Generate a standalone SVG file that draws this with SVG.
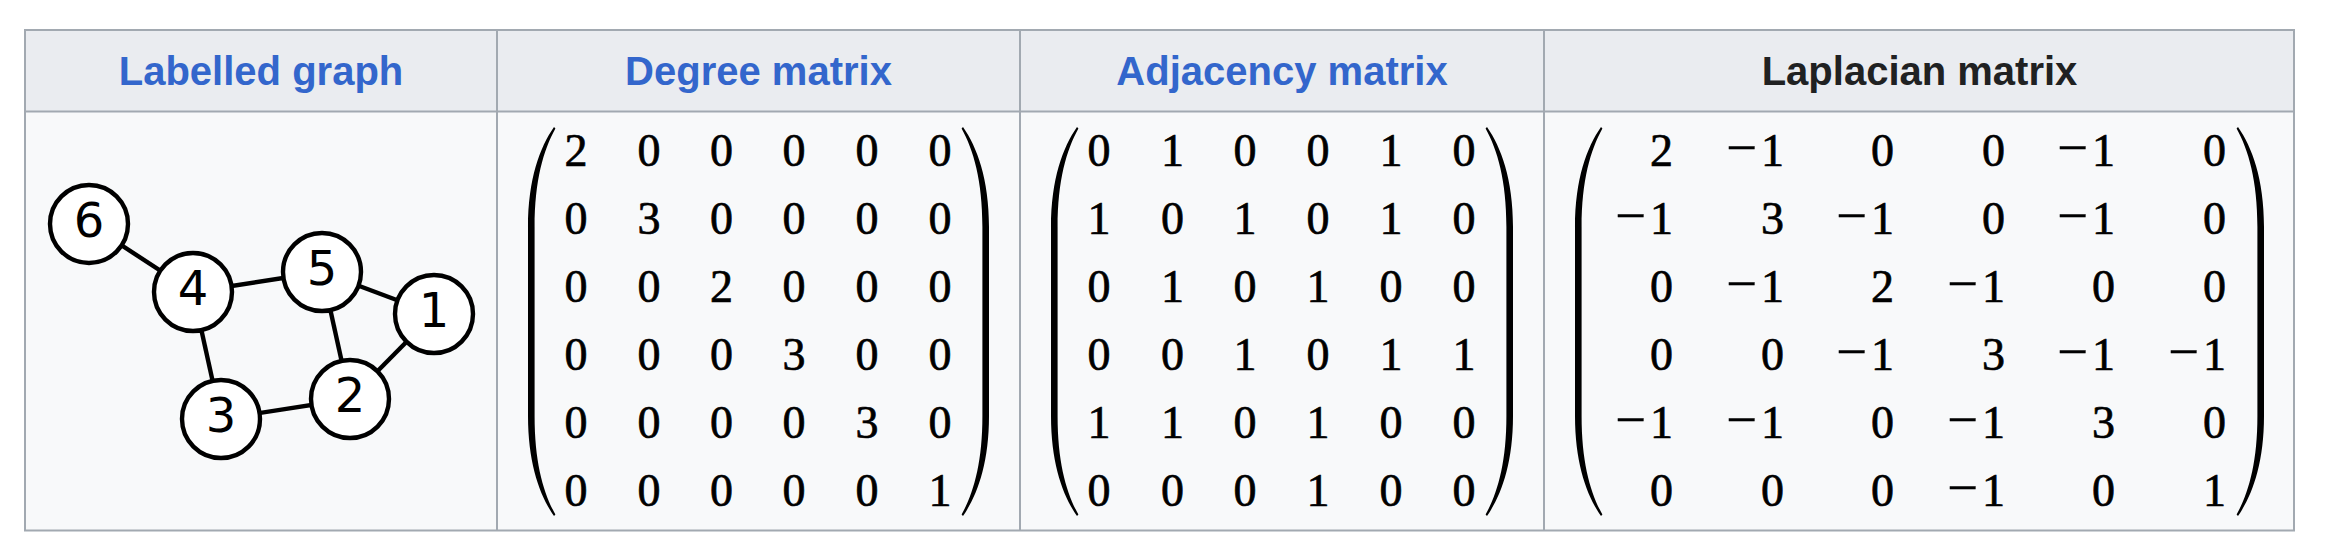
<svg xmlns="http://www.w3.org/2000/svg" xmlns:xlink="http://www.w3.org/1999/xlink" width="2328" height="556" viewBox="0 0 2328 556">
<style>
.hd{fill:#eaecf0}
.bd{fill:#f8f9fa}
.ln{stroke:#a2a9b1;stroke-width:2;fill:none}
.ht{font-family:"Liberation Sans",Arial,sans-serif;font-weight:bold;font-size:40px;text-anchor:middle}
.lk{fill:#3366cc}
.bk{fill:#202122}
.mc,.mr{font-family:"Liberation Serif","Times New Roman",serif;font-size:46px;fill:#000;stroke:#000;stroke-width:0.7}
.mc{text-anchor:middle}
.mr{text-anchor:end}
.mn{font-size:55px;stroke-width:0.3}
.edge{stroke:#000;stroke-width:4.4;fill:none}
.nd{fill:#fff;stroke:#000;stroke-width:4.4}
.nl{font-family:"DejaVu Sans",sans-serif;font-size:48px;fill:#000;text-anchor:middle}
</style>
<defs>
<path id="paren" d="M26 0 C12 20 0 52 0 100 L0 289 C0 337 12 369 26 389 L27.4 387.6 C15.5 366 6.6 336 6.6 289 L6.6 100 C6.6 53 15.5 23 27.4 1.4 Z" fill="#000"/>
</defs>
<rect width="2328" height="556" fill="#fff"/>
<g id="table">
<rect class="hd" x="25" y="30" width="2269" height="81.5"/>
<rect class="bd" x="25" y="111.5" width="2269" height="419"/>
<rect class="ln" x="25" y="30" width="2269" height="500.5"/>
<line class="ln" x1="25" y1="111.5" x2="2294" y2="111.5"/>
<line class="ln" x1="497" y1="30" x2="497" y2="530.5"/>
<line class="ln" x1="1020" y1="30" x2="1020" y2="530.5"/>
<line class="ln" x1="1544" y1="30" x2="1544" y2="530.5"/>
</g>
<g id="headers">
<text class="ht lk" x="261" y="84.5">Labelled graph</text>
<text class="ht lk" x="758.5" y="84.5">Degree matrix</text>
<text class="ht lk" x="1282" y="84.5">Adjacency matrix</text>
<text class="ht bk" x="1919.5" y="84.5">Laplacian matrix</text>
</g>
<g id="graph">
<g id="connectors">
<line class="edge" x1="89" y1="224" x2="193" y2="292"/>
<line class="edge" x1="193" y1="292" x2="322" y2="272"/>
<line class="edge" x1="193" y1="292" x2="221" y2="419"/>
<line class="edge" x1="322" y1="272" x2="434" y2="314"/>
<line class="edge" x1="322" y1="272" x2="350" y2="399"/>
<line class="edge" x1="434" y1="314" x2="350" y2="399"/>
<line class="edge" x1="221" y1="419" x2="350" y2="399"/>
</g>
<g id="node6"><circle class="nd" cx="89" cy="224" r="39"/><text class="nl" x="89" y="236.5">6</text></g>
<g id="node4"><circle class="nd" cx="193" cy="292" r="39"/><text class="nl" x="193" y="304.5">4</text></g>
<g id="node5"><circle class="nd" cx="322" cy="272" r="39"/><text class="nl" x="322" y="284.5">5</text></g>
<g id="node1"><circle class="nd" cx="434" cy="314" r="39"/><text class="nl" x="434" y="326.5">1</text></g>
<g id="node2"><circle class="nd" cx="350" cy="399" r="39"/><text class="nl" x="350" y="411.5">2</text></g>
<g id="node3"><circle class="nd" cx="221" cy="419" r="39"/><text class="nl" x="221" y="431.5">3</text></g>
</g>
<g id="degree-matrix">
<use xlink:href="#paren" href="#paren" transform="translate(528,127)"/>
<use xlink:href="#paren" href="#paren" transform="translate(989,127) scale(-1,1)"/>
<text class="mc" x="576" y="166">2</text><text class="mc" x="649" y="166">0</text><text class="mc" x="721.5" y="166">0</text><text class="mc" x="794" y="166">0</text><text class="mc" x="867" y="166">0</text><text class="mc" x="940" y="166">0</text>
<text class="mc" x="576" y="234">0</text><text class="mc" x="649" y="234">3</text><text class="mc" x="721.5" y="234">0</text><text class="mc" x="794" y="234">0</text><text class="mc" x="867" y="234">0</text><text class="mc" x="940" y="234">0</text>
<text class="mc" x="576" y="302">0</text><text class="mc" x="649" y="302">0</text><text class="mc" x="721.5" y="302">2</text><text class="mc" x="794" y="302">0</text><text class="mc" x="867" y="302">0</text><text class="mc" x="940" y="302">0</text>
<text class="mc" x="576" y="370">0</text><text class="mc" x="649" y="370">0</text><text class="mc" x="721.5" y="370">0</text><text class="mc" x="794" y="370">3</text><text class="mc" x="867" y="370">0</text><text class="mc" x="940" y="370">0</text>
<text class="mc" x="576" y="438">0</text><text class="mc" x="649" y="438">0</text><text class="mc" x="721.5" y="438">0</text><text class="mc" x="794" y="438">0</text><text class="mc" x="867" y="438">3</text><text class="mc" x="940" y="438">0</text>
<text class="mc" x="576" y="506">0</text><text class="mc" x="649" y="506">0</text><text class="mc" x="721.5" y="506">0</text><text class="mc" x="794" y="506">0</text><text class="mc" x="867" y="506">0</text><text class="mc" x="940" y="506">1</text>
</g>
<g id="adjacency-matrix">
<use xlink:href="#paren" href="#paren" transform="translate(1051,127)"/>
<use xlink:href="#paren" href="#paren" transform="translate(1513,127) scale(-1,1)"/>
<text class="mc" x="1099" y="166">0</text><text class="mc" x="1172.5" y="166">1</text><text class="mc" x="1245" y="166">0</text><text class="mc" x="1318" y="166">0</text><text class="mc" x="1391" y="166">1</text><text class="mc" x="1464" y="166">0</text>
<text class="mc" x="1099" y="234">1</text><text class="mc" x="1172.5" y="234">0</text><text class="mc" x="1245" y="234">1</text><text class="mc" x="1318" y="234">0</text><text class="mc" x="1391" y="234">1</text><text class="mc" x="1464" y="234">0</text>
<text class="mc" x="1099" y="302">0</text><text class="mc" x="1172.5" y="302">1</text><text class="mc" x="1245" y="302">0</text><text class="mc" x="1318" y="302">1</text><text class="mc" x="1391" y="302">0</text><text class="mc" x="1464" y="302">0</text>
<text class="mc" x="1099" y="370">0</text><text class="mc" x="1172.5" y="370">0</text><text class="mc" x="1245" y="370">1</text><text class="mc" x="1318" y="370">0</text><text class="mc" x="1391" y="370">1</text><text class="mc" x="1464" y="370">1</text>
<text class="mc" x="1099" y="438">1</text><text class="mc" x="1172.5" y="438">1</text><text class="mc" x="1245" y="438">0</text><text class="mc" x="1318" y="438">1</text><text class="mc" x="1391" y="438">0</text><text class="mc" x="1464" y="438">0</text>
<text class="mc" x="1099" y="506">0</text><text class="mc" x="1172.5" y="506">0</text><text class="mc" x="1245" y="506">0</text><text class="mc" x="1318" y="506">1</text><text class="mc" x="1391" y="506">0</text><text class="mc" x="1464" y="506">0</text>
</g>
<g id="laplacian-matrix">
<use xlink:href="#paren" href="#paren" transform="translate(1575,127)"/>
<use xlink:href="#paren" href="#paren" transform="translate(2264,127) scale(-1,1)"/>
<text class="mr" x="1673" y="166">2</text><text class="mr" x="1784" y="166"><tspan class="mn">−</tspan><tspan dx="4">1</tspan></text><text class="mr" x="1894" y="166">0</text><text class="mr" x="2005" y="166">0</text><text class="mr" x="2115" y="166"><tspan class="mn">−</tspan><tspan dx="4">1</tspan></text><text class="mr" x="2226" y="166">0</text>
<text class="mr" x="1673" y="234"><tspan class="mn">−</tspan><tspan dx="4">1</tspan></text><text class="mr" x="1784" y="234">3</text><text class="mr" x="1894" y="234"><tspan class="mn">−</tspan><tspan dx="4">1</tspan></text><text class="mr" x="2005" y="234">0</text><text class="mr" x="2115" y="234"><tspan class="mn">−</tspan><tspan dx="4">1</tspan></text><text class="mr" x="2226" y="234">0</text>
<text class="mr" x="1673" y="302">0</text><text class="mr" x="1784" y="302"><tspan class="mn">−</tspan><tspan dx="4">1</tspan></text><text class="mr" x="1894" y="302">2</text><text class="mr" x="2005" y="302"><tspan class="mn">−</tspan><tspan dx="4">1</tspan></text><text class="mr" x="2115" y="302">0</text><text class="mr" x="2226" y="302">0</text>
<text class="mr" x="1673" y="370">0</text><text class="mr" x="1784" y="370">0</text><text class="mr" x="1894" y="370"><tspan class="mn">−</tspan><tspan dx="4">1</tspan></text><text class="mr" x="2005" y="370">3</text><text class="mr" x="2115" y="370"><tspan class="mn">−</tspan><tspan dx="4">1</tspan></text><text class="mr" x="2226" y="370"><tspan class="mn">−</tspan><tspan dx="4">1</tspan></text>
<text class="mr" x="1673" y="438"><tspan class="mn">−</tspan><tspan dx="4">1</tspan></text><text class="mr" x="1784" y="438"><tspan class="mn">−</tspan><tspan dx="4">1</tspan></text><text class="mr" x="1894" y="438">0</text><text class="mr" x="2005" y="438"><tspan class="mn">−</tspan><tspan dx="4">1</tspan></text><text class="mr" x="2115" y="438">3</text><text class="mr" x="2226" y="438">0</text>
<text class="mr" x="1673" y="506">0</text><text class="mr" x="1784" y="506">0</text><text class="mr" x="1894" y="506">0</text><text class="mr" x="2005" y="506"><tspan class="mn">−</tspan><tspan dx="4">1</tspan></text><text class="mr" x="2115" y="506">0</text><text class="mr" x="2226" y="506">1</text>
</g>
</svg>
